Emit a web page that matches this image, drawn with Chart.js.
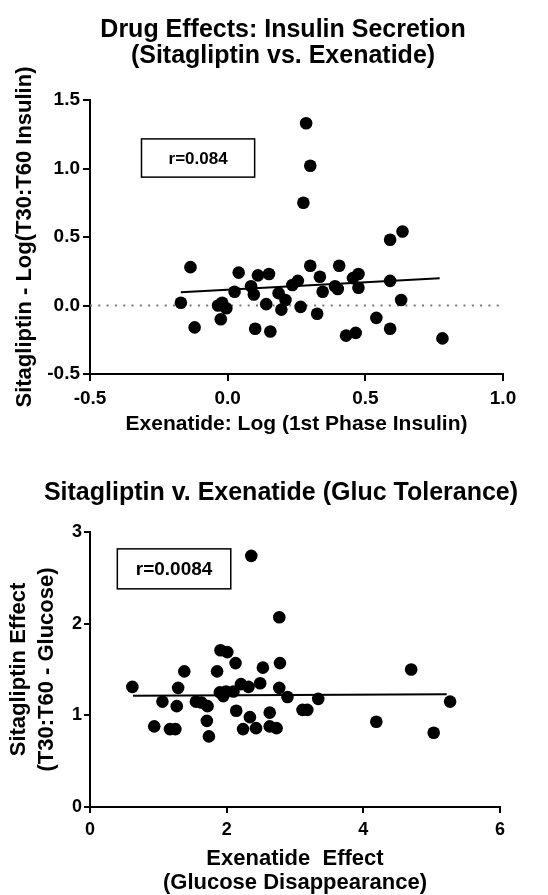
<!DOCTYPE html>
<html>
<head>
<meta charset="utf-8">
<title>Sitagliptin vs. Exenatide</title>
<script src="https://cdn.jsdelivr.net/npm/chart.js@4.4.1/dist/chart.umd.min.js"></script>
<style>
  html, body { margin: 0; padding: 0; background: #fff; }
  #page { position: relative; width: 548px; height: 895px; overflow: hidden; }
  #insulinChart { position: absolute; left: 0; top: 0; width: 548px; height: 440px; }
  #glucoseChart { position: absolute; left: 0; top: 440px; width: 548px; height: 455px; }
</style>
</head>
<body>
<div id="page">
  <canvas id="insulinChart" width="548" height="440"></canvas>
  <canvas id="glucoseChart" width="548" height="455"></canvas>
</div>
<script>
// --- Top chart: insulin secretion ---
const insulinX = [-0.17, -0.135, -0.12, -0.035, -0.02, -0.005, -0.025, 0.04, 0.025, 0.085,
    0.095, 0.10, 0.11, 0.15, 0.14, 0.155, 0.185, 0.21, 0.195, 0.235,
    0.255, 0.265, 0.30, 0.335, 0.345, 0.325, 0.405, 0.39, 0.40, 0.455,
    0.475, 0.475, 0.59, 0.635, 0.59, 0.63, 0.54, 0.43, 0.465, 0.59,
    0.78, 0.285, 0.30, 0.275];
const insulinY = [0.02, 0.28, -0.16, 0.00, 0.02, -0.02, -0.10, 0.24, 0.10, 0.14,
    0.08, -0.17, 0.22, 0.23, 0.01, -0.19, 0.09, 0.04, -0.03, 0.15,
    0.18, -0.01, 0.29, 0.21, 0.10, -0.06, 0.29, 0.14, 0.12, 0.20,
    0.23, 0.13, 0.48, 0.54, 0.18, 0.04, -0.09, -0.22, -0.20, -0.17,
    -0.24, 1.33, 1.02, 0.75];
const insulinFitX = [-0.17, 0.77];
const insulinFitY = [0.097, 0.199];
const insulinZeroX = [-0.5, 1.0];
const insulinZeroY = [0, 0];
const insulinXTicks = [-0.5, 0.0, 0.5, 1.0];
const insulinYTicks = [-0.5, 0.0, 0.5, 1.0, 1.5];
const insulinR = "r=0.084";

// --- Bottom chart: glucose tolerance ---
const glucX = [0.62, 1.38, 1.29, 1.06, 1.27, 0.94, 1.17, 1.25, 1.55, 1.63,
    1.72, 1.71, 1.74, 1.86, 1.91, 2.01, 2.13, 1.90, 1.95, 1.99,
    2.10, 2.21, 2.32, 2.49, 2.53, 2.78, 2.77, 2.89, 2.14, 2.34,
    2.63, 2.24, 2.43, 2.63, 2.73, 2.77, 2.36, 3.34, 3.11, 3.18,
    4.19, 4.70, 5.27, 5.03];
const glucY = [1.31, 1.48, 1.30, 1.15, 1.10, 0.88, 0.85, 0.85, 1.15, 1.14,
    1.10, 0.94, 0.77, 1.48, 1.71, 1.69, 1.57, 1.25, 1.21, 1.26,
    1.26, 1.34, 1.31, 1.35, 1.52, 1.57, 1.30, 1.20, 1.05, 0.98,
    1.03, 0.85, 0.86, 0.88, 0.86, 2.07, 2.74, 1.18, 1.06, 1.06,
    0.93, 1.50, 1.15, 0.81];
const glucFitX = [0.63, 5.22];
const glucFitY = [1.215, 1.23];
const glucXTicks = [0, 2, 4, 6];
const glucYTicks = [0, 1, 2, 3];
const glucR = "r=0.0084";

const FONT = "'Liberation Sans', Arial, Helvetica, sans-serif";

// helper: two arrays -> point objects
function toPoints(xs, ys) {
    return xs.map((x, i) => ({ x: x, y: ys[i] }));
}

// draws the big heading text above the plot
const headerPlugin = {
    id: 'header',
    afterDraw(chart, args, opts) {
        const ctx = chart.ctx;
        ctx.save();
        ctx.fillStyle = '#000';
        ctx.font = opts.font;
        ctx.textAlign = 'center';
        ctx.textBaseline = 'alphabetic';
        opts.lines.forEach((line, i) => ctx.fillText(line, opts.x, opts.baselines[i]));
        ctx.restore();
    }
};

// boxed correlation label, placed in data units
const rBoxPlugin = {
    id: 'rBox',
    afterDatasetsDraw(chart, args, opts) {
        const { ctx, scales } = chart;
        const left = scales.x.getPixelForValue(opts.xFrom);
        const right = scales.x.getPixelForValue(opts.xTo);
        const top = scales.y.getPixelForValue(opts.yTop);
        const bottom = scales.y.getPixelForValue(opts.yBottom);
        ctx.save();
        ctx.strokeStyle = '#000';
        ctx.lineWidth = 1.5;
        ctx.strokeRect(left, top, right - left, bottom - top);
        ctx.fillStyle = '#000';
        ctx.font = opts.font;
        ctx.textAlign = 'center';
        ctx.textBaseline = 'middle';
        ctx.fillText(opts.text, (left + right) / 2, (top + bottom) / 2 + 1);
        ctx.restore();
    }
};

function axis(opts) {
    return {
        type: 'linear',
        min: opts.ticks[0],
        max: opts.ticks[opts.ticks.length - 1],
        afterBuildTicks: (scale) => { scale.ticks = opts.ticks.map(v => ({ value: v })); },
        ticks: {
            color: '#000',
            font: { family: FONT, size: opts.tickSize, weight: 'bold' },
            padding: opts.tickPad,
            maxRotation: 0,
            autoSkip: false,
            callback: opts.format
        },
        grid: {
            display: true,
            drawOnChartArea: false,
            drawTicks: true,
            tickLength: opts.tickLen,
            color: '#000',
            lineWidth: 2
        },
        border: { display: true, color: '#000', width: 2 },
        title: {
            display: true,
            text: opts.title,
            color: '#000',
            font: { family: FONT, size: opts.titleSize, weight: 'bold', lineHeight: opts.titleLine },
            padding: opts.titlePad
        },
        afterFit: opts.fit
    };
}

document.addEventListener("DOMContentLoaded", function () {
    Chart.defaults.font.family = FONT;
    Chart.defaults.color = '#000';

    // top chart
    new Chart(document.querySelector("#insulinChart"), {
        type: 'scatter',
        data: {
            datasets: [
                {
                    data: toPoints(insulinZeroX, insulinZeroY),
                    showLine: true,
                    borderColor: '#7a7a7a',
                    borderWidth: 2,
                    borderDash: [2, 6.3],
                    pointRadius: 0,
                    order: 3
                },
                {
                    data: toPoints(insulinFitX, insulinFitY),
                    showLine: true,
                    borderColor: '#000',
                    borderWidth: 2,
                    pointRadius: 0,
                    order: 2
                },
                {
                    data: toPoints(insulinX, insulinY),
                    backgroundColor: '#000',
                    borderWidth: 0,
                    pointRadius: 6.3,
                    pointHoverRadius: 6.3,
                    order: 1
                }
            ]
        },
        options: {
            responsive: false,
            animation: false,
            events: [],
            layout: { padding: { left: 0, top: 100, right: 45, bottom: 0 } },
            plugins: {
                legend: { display: false },
                tooltip: { enabled: false },
                header: {
                    lines: ['Drug Effects: Insulin Secretion', '(Sitagliptin vs. Exenatide)'],
                    x: 283,
                    baselines: [37, 63],
                    font: 'bold 25px ' + FONT
                },
                rBox: {
                    text: insulinR,
                    xFrom: -0.313, xTo: 0.098, yTop: 1.216, yBottom: 0.937,
                    font: 'bold 17px ' + FONT
                }
            },
            scales: {
                x: axis({
                    ticks: insulinXTicks, tickSize: 19, tickPad: 6, tickLen: 7,
                    format: v => Number(v).toFixed(1),
                    title: 'Exenatide: Log (1st Phase Insulin)', titleSize: 21, titleLine: 1.2,
                    titlePad: { top: 0, bottom: 3 },
                    fit: s => { s.height = 66; }
                }),
                y: axis({
                    ticks: insulinYTicks, tickSize: 19, tickPad: 3, tickLen: 7,
                    format: v => Number(v).toFixed(1),
                    title: 'Sitagliptin - Log(T30:T60 Insulin)', titleSize: 22, titleLine: 1.2,
                    titlePad: { top: 12, bottom: 0 },
                    fit: s => { s.width = 90; }
                })
            }
        },
        plugins: [headerPlugin, rBoxPlugin]
    });

    // bottom chart
    new Chart(document.querySelector("#glucoseChart"), {
        type: 'scatter',
        data: {
            datasets: [
                {
                    data: toPoints(glucFitX, glucFitY),
                    showLine: true,
                    borderColor: '#000',
                    borderWidth: 2,
                    pointRadius: 0,
                    order: 2
                },
                {
                    data: toPoints(glucX, glucY),
                    backgroundColor: '#000',
                    borderWidth: 0,
                    pointRadius: 6.3,
                    pointHoverRadius: 6.3,
                    order: 1
                }
            ]
        },
        options: {
            responsive: false,
            animation: false,
            events: [],
            layout: { padding: { left: 0, top: 92, right: 48, bottom: 0 } },
            plugins: {
                legend: { display: false },
                tooltip: { enabled: false },
                header: {
                    lines: ['Sitagliptin v. Exenatide (Gluc Tolerance)'],
                    x: 281,
                    baselines: [60],
                    font: 'bold 25px ' + FONT
                },
                rBox: {
                    text: glucR,
                    xFrom: 0.40, xTo: 2.06, yTop: 2.816, yBottom: 2.38,
                    font: 'bold 19px ' + FONT
                }
            },
            scales: {
                x: axis({
                    ticks: glucXTicks, tickSize: 18, tickPad: 6, tickLen: 6,
                    format: v => String(v),
                    title: ['Exenatide  Effect', '(Glucose Disappearance)'], titleSize: 22, titleLine: 1.09,
                    titlePad: { top: 0, bottom: 0 },
                    fit: s => { s.height = 88; }
                }),
                y: axis({
                    ticks: glucYTicks, tickSize: 18, tickPad: 2, tickLen: 6,
                    format: v => String(v),
                    title: ['Sitagliptin Effect', '(T30:T60 - Glucose)'], titleSize: 22, titleLine: 1.28,
                    titlePad: { top: 5, bottom: 0 },
                    fit: s => { s.width = 90; }
                })
            }
        },
        plugins: [headerPlugin, rBoxPlugin]
    });
});
</script>
</body>
</html>
